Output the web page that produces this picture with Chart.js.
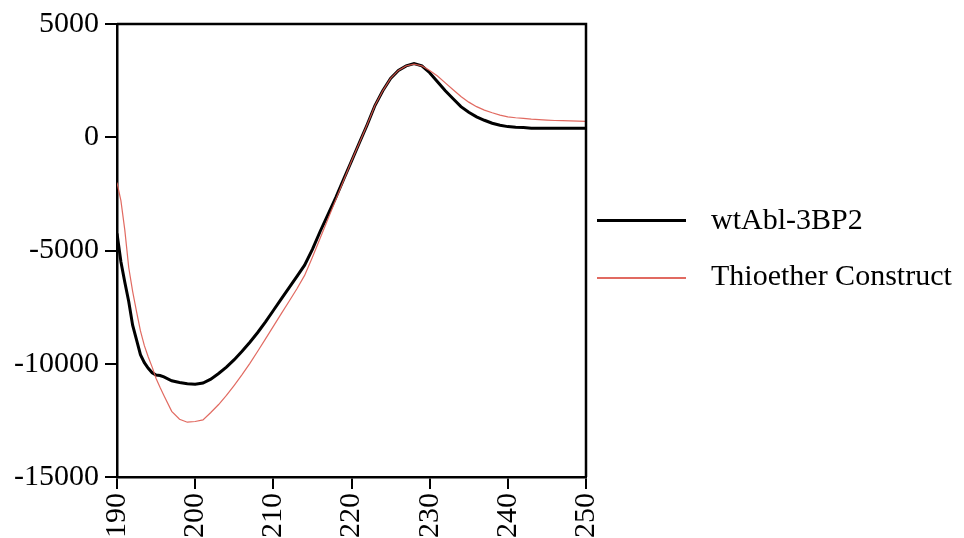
<!DOCTYPE html>
<html><head><meta charset="utf-8">
<script src="https://cdn.jsdelivr.net/npm/chart.js@4/dist/chart.umd.min.js"></script>
<style>
html,body{margin:0;padding:0;background:#fff;}
#wrap{position:relative;width:964px;height:538px;overflow:hidden;background:#fff;}
canvas{position:absolute;left:0;top:0;}
.leg{position:absolute;font-family:"Liberation Serif","Times New Roman",serif;font-size:30px;line-height:30px;color:#000;white-space:nowrap;}
.sw{position:absolute;}
</style></head><body>
<div id="wrap"><canvas id="c" width="964" height="538"></canvas></div>
<script>
// wavelength (nm)
const wavelength = [190,190.5,191,191.5,192,192.5,193,193.5,194,194.5,195,195.5,196,
  197,198,199,200,201,202,203,204,205,206,207,208,209,210,
  211,212,213,214,215,216,217,218,219,220,221,222,223,224,225,226,227,228,229,230,
  231,232,233,234,235,236,237,238,239,240,241,242,243,244,245,246,247,248,249,250];
// series values
const wtAbl = [-4250,-5500,-6400,-7250,-8300,-8950,-9600,-9950,-10200,-10400,-10500,-10520,-10580,
  -10750,-10830,-10880,-10900,-10850,-10680,-10430,-10150,-9820,-9450,-9050,-8620,-8150,-7650,
  -7150,-6650,-6150,-5650,-4950,-4150,-3400,-2650,-1850,-1050,-250,550,1400,2050,2600,2950,3150,3250,3150,2850,
  2450,2050,1700,1350,1100,900,750,620,530,470,440,430,400,400,400,400,400,400,400,400];
const thioether = [-2000,-2800,-4100,-5750,-6800,-7700,-8550,-9200,-9700,-10150,-10650,-11040,-11400,
  -12100,-12450,-12580,-12550,-12480,-12150,-11800,-11400,-10950,-10480,-9980,-9450,-8900,-8350,
  -7800,-7250,-6700,-6100,-5300,-4450,-3600,-2750,-1900,-1050,-250,550,1400,2050,2600,2950,3150,3230,3150,2950,
  2700,2400,2100,1800,1550,1350,1200,1080,980,900,860,830,800,780,760,740,730,720,710,700];
const seriesLabels = ['wtAbl-3BP2','Thioether Construct'];
const xTicks = [190,200,210,220,230,240,250];
const yTicks = [-15000,-10000,-5000,0,5000];

const FONT = {family:'"Liberation Serif","Times New Roman",serif', size:30};
const colors = ['#000000','rgba(222,90,80,0.9)'];
const widths = [3,1.2];

const framePlugin = {
  id:'frame',
  afterDatasetsDraw(chart){
    const {ctx, chartArea:a} = chart;
    ctx.save();
    ctx.strokeStyle = '#000';
    ctx.lineWidth = 2.5;
    ctx.beginPath();
    ctx.moveTo(a.left, a.top);
    ctx.lineTo(a.right, a.top);
    ctx.lineTo(a.right, a.bottom);
    ctx.stroke();
    ctx.restore();
  }
};

const chart = new Chart(document.getElementById('c'), {
  type:'line',
  data:{
    datasets:[
      {label:seriesLabels[0], data:wavelength.map((w,i)=>({x:w,y:wtAbl[i]})),
       borderColor:colors[0], borderWidth:widths[0], pointRadius:0, tension:0, fill:false, order:1},
      {label:seriesLabels[1], data:wavelength.map((w,i)=>({x:w,y:thioether[i]})),
       borderColor:colors[1], borderWidth:widths[1], pointRadius:0, tension:0, fill:false, order:0}
    ]
  },
  options:{
    responsive:false, animation:false, devicePixelRatio:1,
    layout:{padding:{top:24,right:378,left:0,bottom:0}},
    plugins:{legend:{display:false}, tooltip:{enabled:false}},
    scales:{
      x:{type:'linear', min:190, max:250,
        afterBuildTicks:s=>{s.ticks = xTicks.map(v=>({value:v}));},
        afterFit:s=>{s.height = 61;},
        ticks:{minRotation:90, maxRotation:90, font:FONT, color:'#000', padding:4},
        grid:{drawOnChartArea:false, drawTicks:true, tickLength:12, color:'#000', lineWidth:2},
        border:{color:'#000', width:2.5}
      },
      y:{type:'linear', min:-15000, max:5000,
        afterBuildTicks:s=>{s.ticks = yTicks.map(v=>({value:v}));},
        afterFit:s=>{s.width = 117;},
        ticks:{font:FONT, color:'#000', padding:6, callback:v=>String(v)},
        grid:{drawOnChartArea:false, drawTicks:true, tickLength:12, color:'#000', lineWidth:2},
        border:{color:'#000', width:2.5}
      }
    }
  },
  plugins:[framePlugin]
});

// legend (HTML, from dataset labels)
const wrap = document.getElementById('wrap');
const legPos = [{lineY:220, textTop:204},{lineY:278, textTop:260}];
chart.data.datasets.forEach((ds,i)=>{
  const sw = document.createElement('div');
  sw.className='sw';
  const h = ds.borderWidth;
  sw.style.cssText = `left:597px;top:${legPos[i].lineY - h/2}px;width:89px;height:${h}px;background:${ds.borderColor};`;
  wrap.appendChild(sw);
  const t = document.createElement('div');
  t.className='leg';
  t.style.left='711px';
  t.style.top=legPos[i].textTop+'px';
  t.textContent = ds.label;
  wrap.appendChild(t);
});
</script>
</body></html>
